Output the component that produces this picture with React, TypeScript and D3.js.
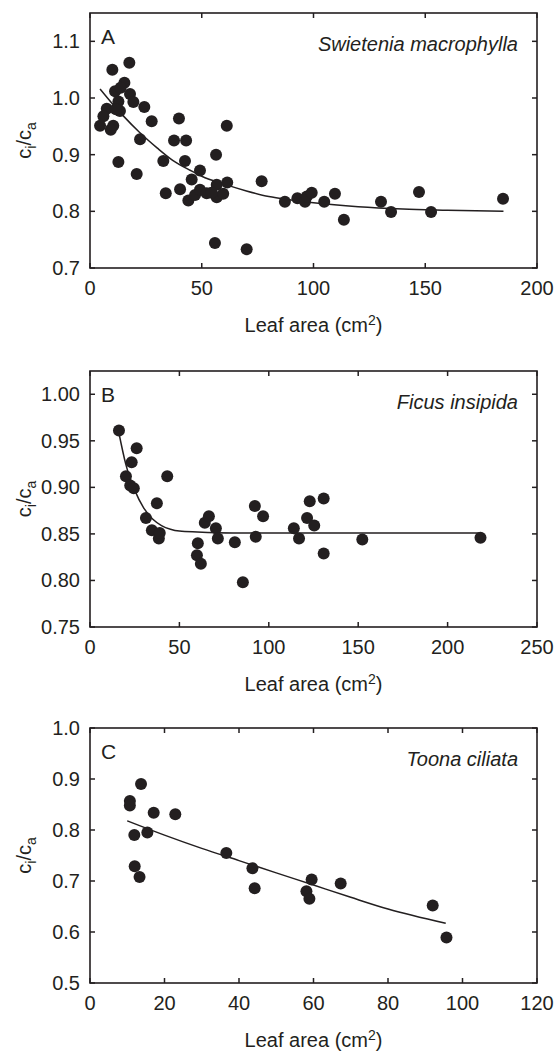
import React from "react";
import * as d3 from "d3";

// ---------- Data ----------
const aLeafArea = [10.0, 17.6, 11.2, 15.4, 13.7, 17.9, 19.4, 12.7, 24.3, 7.5, 13.4, 11.6, 6.0, 4.5, 10.4, 9.3, 27.6, 39.8, 61.2, 22.4, 37.6, 43.0, 12.7, 32.8, 42.5, 56.4, 20.9, 49.2, 33.9, 40.3, 45.5, 44.0, 47.0, 49.2, 52.2, 56.7, 56.7, 59.6, 61.4, 54.4, 55.9, 70.1, 76.8, 87.2, 92.8, 96.2, 97.0, 99.2, 104.8, 109.6, 113.6, 130.2, 134.7, 147.2, 152.6, 184.8];
const aCiCa = [1.050, 1.062, 1.012, 1.027, 1.018, 1.007, 0.993, 0.994, 0.984, 0.981, 0.977, 0.980, 0.968, 0.951, 0.951, 0.944, 0.959, 0.964, 0.951, 0.927, 0.925, 0.925, 0.887, 0.889, 0.889, 0.900, 0.866, 0.872, 0.832, 0.839, 0.856, 0.819, 0.829, 0.838, 0.832, 0.847, 0.825, 0.831, 0.851, 0.833, 0.744, 0.733, 0.853, 0.817, 0.823, 0.817, 0.826, 0.833, 0.817, 0.831, 0.785, 0.817, 0.799, 0.834, 0.799, 0.822];
const aFitX = [4.5, 10, 15, 22, 30, 37, 45, 50, 60, 70, 80, 90, 100, 120, 140, 160, 185];
const aFitY = [1.016, 0.99, 0.968, 0.94, 0.912, 0.89, 0.872, 0.862, 0.848, 0.836, 0.826, 0.82, 0.815, 0.808, 0.804, 0.802, 0.8];

const bLeafArea = [16.2, 26.1, 23.3, 20.1, 43.2, 22.5, 24.5, 31.3, 34.6, 37.4, 38.5, 39, 60.3, 59.8, 62, 64.2, 66.5, 70.4, 71.5, 81, 85.5, 92.2, 92.7, 96.8, 114, 116.9, 121.4, 122.9, 125.4, 130.7, 130.7, 152.3, 218.4];
const bCiCa = [0.961, 0.942, 0.927, 0.912, 0.912, 0.902, 0.899, 0.867, 0.854, 0.883, 0.845, 0.851, 0.840, 0.827, 0.818, 0.862, 0.869, 0.856, 0.845, 0.841, 0.798, 0.880, 0.847, 0.869, 0.856, 0.845, 0.867, 0.885, 0.859, 0.888, 0.829, 0.844, 0.846];
const bFitX = [16, 20, 25, 30, 35, 40, 45, 50, 60, 80, 218];
const bFitY = [0.96, 0.925, 0.897, 0.878, 0.866, 0.859, 0.855, 0.853, 0.852, 0.851, 0.851];

const cLeafArea = [10.7, 10.7, 13.7, 11.9, 15.4, 17.1, 22.9, 12, 13.3, 36.6, 43.6, 44.2, 58.1, 58.9, 59.5, 67.3, 92, 95.7];
const cCiCa = [0.857, 0.848, 0.890, 0.790, 0.795, 0.834, 0.831, 0.729, 0.708, 0.755, 0.725, 0.686, 0.680, 0.665, 0.703, 0.695, 0.652, 0.589];
const cFitX = [10, 20, 30, 40, 50, 60, 70, 80, 95.5];
const cFitY = [0.818, 0.79, 0.764, 0.74, 0.716, 0.692, 0.668, 0.645, 0.617];

const aXTicks = [0, 50, 100, 150, 200];
const aYTicks = [0.7, 0.8, 0.9, 1.0, 1.1];
const bXTicks = [0, 50, 100, 150, 200, 250];
const bYTicks = [0.75, 0.8, 0.85, 0.9, 0.95, 1.0];
const cXTicks = [0, 20, 40, 60, 80, 100, 120];
const cYTicks = [0.5, 0.6, 0.7, 0.8, 0.9, 1.0];

const INK = "#231f20";
const FONT = "'Liberation Sans', Arial, Helvetica, sans-serif";

type PanelProps = {
  top: number;
  bottom: number;
  xDomain: [number, number];
  yDomain: [number, number];
  xTicks: number[];
  yTicks: number[];
  yFmt: (v: number) => string;
  xs: number[];
  ys: number[];
  fitX: number[];
  fitY: number[];
  letter: string;
  species: string;
};

const LEFT = 90;
const RIGHT = 537;

function Panel(p: PanelProps) {
  const x = d3.scaleLinear().domain(p.xDomain).range([LEFT, RIGHT]);
  const y = d3.scaleLinear().domain(p.yDomain).range([p.bottom, p.top]);
  const line = d3
    .line<number>()
    .x((_, i) => x(p.fitX[i]))
    .y((d) => y(d))
    .curve(d3.curveMonotoneX);
  const tick = 5;
  const mid = (p.top + p.bottom) / 2;
  return (
    <g>
      {/* fit line */}
      <path d={line(p.fitY) || ""} fill="none" stroke={INK} strokeWidth={1.5} />
      {/* points */}
      {p.xs.map((v, i) => (
        <circle key={i} cx={x(v)} cy={y(p.ys[i])} r={6} fill={INK} />
      ))}
      {/* frame */}
      <rect x={LEFT} y={p.top} width={RIGHT - LEFT} height={p.bottom - p.top} fill="none" stroke={INK} strokeWidth={1.6} />
      {/* x ticks */}
      {p.xTicks.map((t) => (
        <g key={"x" + t}>
          <line x1={x(t)} x2={x(t)} y1={p.bottom} y2={p.bottom - tick} stroke={INK} strokeWidth={1.5} />
          <line x1={x(t)} x2={x(t)} y1={p.top} y2={p.top + tick} stroke={INK} strokeWidth={1.5} />
          <text x={x(t)} y={p.bottom + 27} textAnchor="middle" fontSize={20} fill={INK} fontFamily={FONT}>
            {t}
          </text>
        </g>
      ))}
      {/* y ticks */}
      {p.yTicks.map((t) => (
        <g key={"y" + t}>
          <line x1={LEFT} x2={LEFT + tick} y1={y(t)} y2={y(t)} stroke={INK} strokeWidth={1.5} />
          <line x1={RIGHT} x2={RIGHT - tick} y1={y(t)} y2={y(t)} stroke={INK} strokeWidth={1.5} />
          <text x={80} y={y(t) + 7} textAnchor="end" fontSize={20} fill={INK} fontFamily={FONT}>
            {p.yFmt(t)}
          </text>
        </g>
      ))}
      {/* x title */}
      <text x={(LEFT + RIGHT) / 2} y={p.bottom + 64} textAnchor="middle" fontSize={20} fill={INK} fontFamily={FONT}>
        Leaf area (cm
        <tspan fontSize={14} dy={-7}>2</tspan>
        <tspan dy={7}>)</tspan>
      </text>
      {/* y title */}
      <text transform={`translate(31,${mid}) rotate(-90)`} textAnchor="middle" fontSize={20} fill={INK} fontFamily={FONT}>
        c<tspan fontSize={14} dy={5}>i</tspan>
        <tspan dy={-5}>/c</tspan>
        <tspan fontSize={14} dy={5}>a</tspan>
      </text>
      {/* letter */}
      <text x={101} y={p.top + 31} fontSize={21} fill={INK} fontFamily={FONT}>
        {p.letter}
      </text>
      {/* species */}
      <text x={518} y={p.top + 38} textAnchor="end" fontSize={20} fontStyle="italic" fill={INK} fontFamily={FONT}>
        {p.species}
      </text>
    </g>
  );
}

export default function App() {
  return (
    <svg width={557} height={1052} style={{ position: "absolute", left: 0, top: 0, background: "#fff" }}>
      <rect width={557} height={1052} fill="#fff" />
      <Panel
        top={13}
        bottom={268}
        xDomain={[0, 200]}
        yDomain={[0.7, 1.15]}
        xTicks={aXTicks}
        yTicks={aYTicks}
        yFmt={d3.format(".1f")}
        xs={aLeafArea}
        ys={aCiCa}
        fitX={aFitX}
        fitY={aFitY}
        letter="A"
        species="Swietenia macrophylla"
      />
      <Panel
        top={371}
        bottom={627}
        xDomain={[0, 250]}
        yDomain={[0.75, 1.025]}
        xTicks={bXTicks}
        yTicks={bYTicks}
        yFmt={d3.format(".2f")}
        xs={bLeafArea}
        ys={bCiCa}
        fitX={bFitX}
        fitY={bFitY}
        letter="B"
        species="Ficus insipida"
      />
      <Panel
        top={728}
        bottom={983}
        xDomain={[0, 120]}
        yDomain={[0.5, 1.0]}
        xTicks={cXTicks}
        yTicks={cYTicks}
        yFmt={d3.format(".1f")}
        xs={cLeafArea}
        ys={cCiCa}
        fitX={cFitX}
        fitY={cFitY}
        letter="C"
        species="Toona ciliata"
      />
    </svg>
  );
}
